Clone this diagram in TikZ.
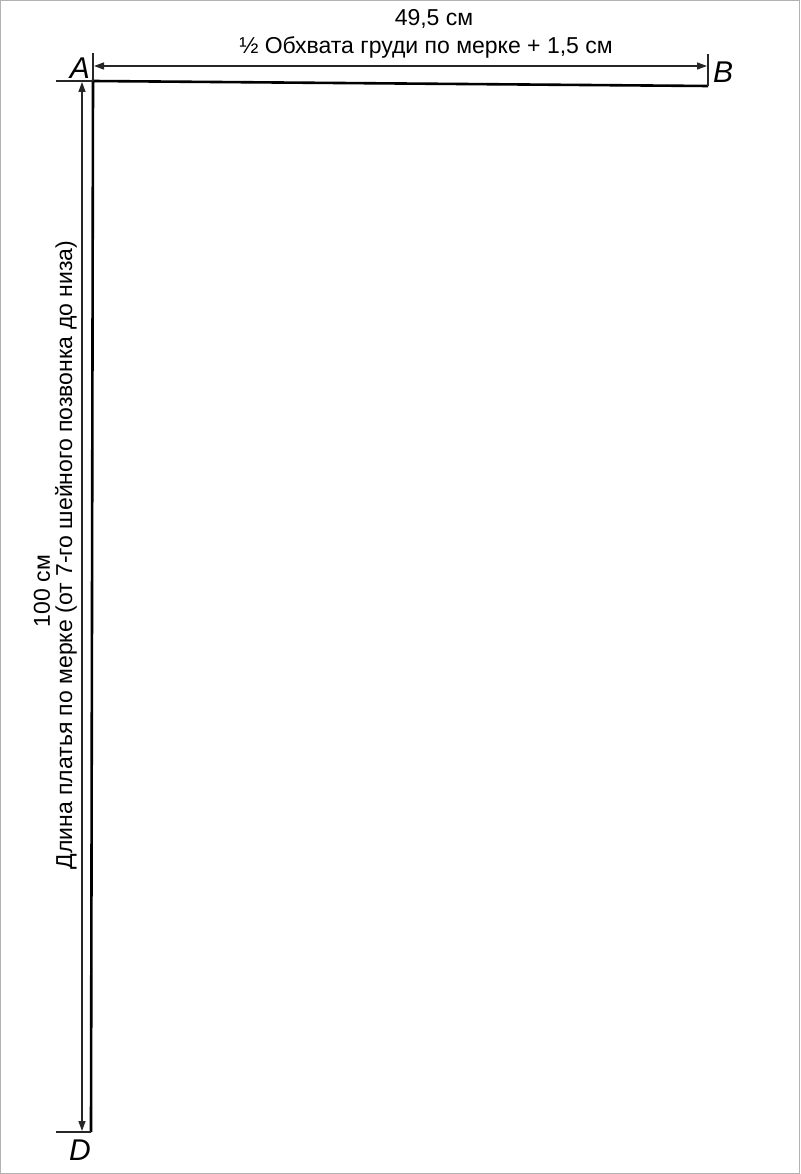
\documentclass[tikz,border=0pt]{standalone}
\usepackage{fontspec}
\setmainfont{Liberation Sans}
\usetikzlibrary{arrows.meta}
\begin{document}
\begin{tikzpicture}[x=1pt,y=-1pt,
  main/.style={line width=2.6pt,black},
  dimline/.style={line width=1.3pt,black!85,{Triangle[length=10pt,width=7pt]}-{Triangle[length=10pt,width=7pt]}},
  tick/.style={line width=1.2pt,black!85},
  pt/.style={font=\fontsize{30}{32}\selectfont\itshape},
  lbl/.style={font=\fontsize{23}{25}\selectfont}]
\useasboundingbox (0,0) rectangle (800,1174);
\draw[gray!60,line width=1pt] (0.5,0.5) rectangle (799.5,1173.5);
% points
\coordinate (A) at (93,81);
\coordinate (B) at (708,86);
\coordinate (D) at (91,1132);
\coordinate (At) at (93,53);
\coordinate (Al) at (56,81);
\coordinate (Bt) at (708,54);
\coordinate (Dl) at (56,1132);
\coordinate (h1) at (94,66);
\coordinate (h2) at (707,66);
\coordinate (v1) at (82,82);
\coordinate (v2) at (82,1131);
% main lines
\draw[main] (B) -- (A) -- (D);
\draw[tick] (At) -- (A);
\draw[tick] (Al) -- (A);
\draw[tick] (Bt) -- (B);
\draw[tick] (Dl) -- (D);
% dimension lines
\draw[dimline] (h1) -- (h2);
\draw[dimline] (v1) -- (v2);
% labels
\node[pt] (lA) at (80,68) {A};
\node[pt] (lB) at (723,72) {B};
\node[pt] (lD) at (80,1150) {D};
\node[lbl] (t1) at (434,19) {49,5 см};
\node[lbl] (t2) at (426,47) {½ Обхвата груди по мерке + 1,5 см};
\node[lbl,rotate=90] (t3) at (42,591) {100 см};
\node[lbl,rotate=90] (t4) at (66,555) {Длина платья по мерке (от 7-го шейного позвонка до низа)};
\end{tikzpicture}
\end{document}
